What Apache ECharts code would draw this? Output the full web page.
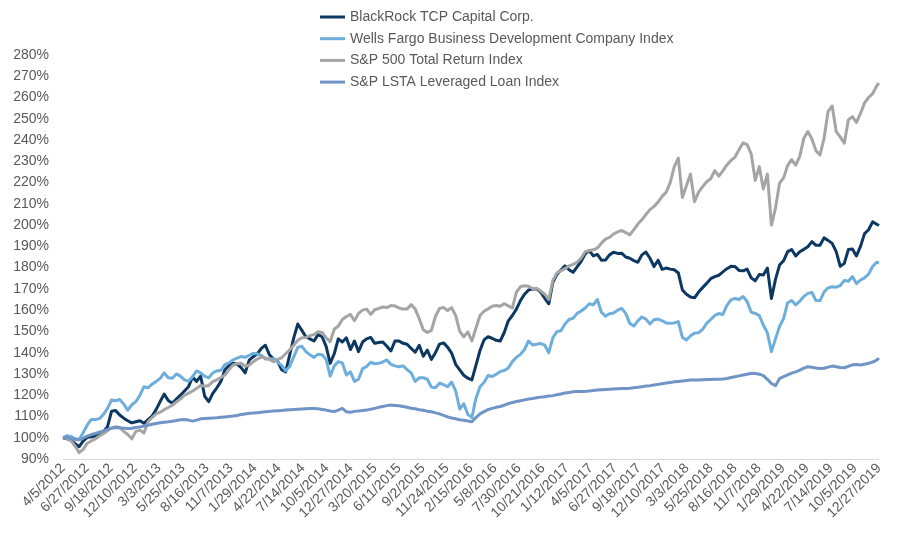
<!DOCTYPE html>
<html>
<head>
<meta charset="utf-8">
<script src="https://cdn.jsdelivr.net/npm/echarts@6/dist/echarts.min.js"></script>
<style>
html,body{margin:0;padding:0;background:#fff;}
#chart{width:915px;height:543px;}
</style>
</head>
<body>
<div id="chart"></div>
<script>
// Observation dates: every 14 days from 4/5/2012, plus the final date 12/27/2019
const START_DATE = '2012-04-05';
const END_DATE = '2019-12-27';
const STEP_DAYS = 14;

const seriesNames = [
  'BlackRock TCP Capital Corp.',
  'Wells Fargo Business Development Company Index',
  'S&P 500 Total Return Index',
  'S&P LSTA Leveraged Loan Index'
];

// Growth of 100% (values in %)
const tcpc = [
100,99.5,98.8,97.2,95.8,98.5,100.2,100.4,100.8,101.6,
103,105.2,112.5,112.8,110.7,109.2,108,107,107.5,108,
106.8,108.5,110.2,113.2,117,120.5,117.5,116.2,118.2,120,
122,124,128.5,126.5,129,119.5,117,120.9,123.5,126.5,
132,134,135,134.6,133,130.5,136.5,138.1,139.5,142,
143.5,139,137,136,132,131,138.9,147,153.5,150.5,
147.5,146.5,145.5,148.5,147.5,143,135,139.5,146.5,145,
147,141.5,145.5,140.5,145,146.5,147.2,144.4,144.8,145,
143,140.8,145.5,145.5,144.4,144,142,140.2,143.5,138.3,
141.2,136.8,140,144,144.6,142.6,139.8,134.5,131.9,129.4,
128,127.2,134,141,146,147.5,146.8,145.8,145.5,149.5,
155,157.5,160.5,164.5,167.5,169.5,170,170,168.5,165.6,
163,173,176.8,178.9,180.8,179,177.8,180.4,183,186.5,
188,185.5,186.2,183.5,183.6,186,187.2,186.7,186.8,185,
184.4,183.3,182.5,186,187.3,184.4,180.5,183.5,179.2,179.8,
179.3,179,177.5,169.5,167.5,166.2,165.8,168.5,170.6,172.6,
174.8,175.8,176.4,178,179.5,180.6,180.5,178.7,178.5,179.3,
175.2,173.8,176.8,176.5,179.8,165.5,174.5,181.2,183.2,187.5,
188.5,185.5,187.5,188.6,189.8,192.2,190.5,190.5,194,192.8,
191.4,187.5,180.6,182,188.5,188.8,185.5,190,196,197.8,
201.5,200.4,199.8
];

const wellsFargoBdc = [
100,101,100.5,99.5,99.2,102.5,106,108.6,108.6,109,
111,113.8,117.8,117.4,118,115.8,113,115.5,117,120,
124,123.5,125.2,126.5,127.9,130.5,128.2,128,130,129,
127.2,126.6,128.7,131.4,130.5,129,128.2,130.5,131.4,131.7,
134.4,135.2,136.6,137.4,138.2,137.8,138.8,139.7,139.4,138.8,
137,137,137.2,135.6,134,131.5,133.5,138,142.5,143,
140.5,139,137.8,139.3,139,136.8,129,133.8,135.8,135.2,
129.5,131,126.5,127.5,132.5,133.5,135.5,134.8,135,135.6,
136.6,134.5,133.8,133.4,133.8,132,130.5,126.5,128.2,128.2,
127.5,123.8,123.5,125.6,125,124,126.2,122,113.5,116,
111,109.5,118.5,124,126,129.3,128.8,129.8,131.1,131.6,
132.8,135.8,137.8,139.2,141.5,145.5,143.6,144,144.3,143.5,
140,147,149.9,150.3,153.5,155.6,156.2,158.5,159.6,161,
163,162.5,165,159,157.2,158.3,158.7,160,160.8,158.5,
153.8,152.5,155,156.8,155.8,153.5,155.5,155.8,155,154,
153.8,154,154.6,147.2,146,148,149.2,149.4,151,153.8,
155.6,157.5,158.4,158,162.2,164.8,165.5,165,166.4,164,
159,158.5,157.5,153,149.3,140.5,146.5,152.3,156,163.5,
164.5,162.5,164.2,166.5,167.9,168.3,164.5,164.5,168.5,170.5,
171,170.8,171.5,174,173.6,175.8,172.5,174.2,175.2,177,
180.5,182.5,182.2
];

const sp500 = [
100,99.6,98.5,96,93,94.5,97.4,98.5,99.5,100.8,
102,103.4,104.6,105.2,104.8,103,101.5,99.5,103,103.6,
102.2,107.5,109.5,111.2,112,113.2,114.2,115.3,116.8,118.2,
120,121,122,123.2,124.6,124.2,124.6,126.4,127.2,128.3,
129.5,132,134.2,134.8,135,133.6,134.2,135.8,137,138,
137.6,136.8,135.8,136.8,137.6,139.5,141.3,143.5,145.8,147,
147.2,148,148.5,149.8,149.5,147,145.2,151,152.5,155.6,
157,158,155,158.5,160,160.5,158,160.2,160.8,161.5,
161.2,162.2,162,161,160.5,160.5,162.6,160.5,156,150.8,
149.5,150.5,157,160.8,161.3,159.8,161.2,157.5,150,147.5,
149.8,145.5,151.5,157.5,159.5,160.6,161.8,162.2,161.8,163,
162,161,168.5,171,171.5,171.2,170.2,170.3,169,167.5,
165,174,177.5,178.5,179.5,180.8,181.5,182.5,184.5,187.5,
188,188.4,189.2,191.5,193.4,194.2,195.8,196.8,197.5,196.5,
195.4,197.8,200.5,202.5,205,207.3,208.8,210.8,213.5,215.5,
220,227.5,231.5,213,218.5,224,211,215.5,218.1,220.4,
221.8,225.6,223,225.5,228.3,230.4,232,235.5,238.7,237.8,
233.5,221,227.5,217,224,200,208,219.7,222.2,228,
230.8,228.2,232.3,240.8,244,240.5,235,233,240.8,253.5,
256,244,241.5,238.5,249.5,251,248.3,252.5,257.5,260,
261.8,265.5,266.8
];

const lstaLoan = [
100,100.2,99.6,99.2,99,99.8,100.8,101.5,102,102.6,
103.2,103.9,104.5,104.8,104.7,104.5,104.3,104.5,104.8,105.1,
105.5,105.9,106.3,106.7,107,107.3,107.5,107.8,108.1,108.5,
108.6,108.3,107.8,108.3,108.9,109.1,109.2,109.3,109.4,109.6,
109.8,110,110.2,110.5,110.9,111.2,111.5,111.6,111.8,112,
112.2,112.4,112.6,112.7,112.8,113,113.2,113.3,113.4,113.5,
113.6,113.7,113.8,113.6,113.3,113,112.6,112.3,113,113.8,
112.2,112,112.4,112.6,112.8,113,113.4,113.8,114.3,114.7,
115.1,115.4,115.2,115,114.7,114.3,113.9,113.6,113.2,112.9,
112.5,112.2,111.7,111.2,110.5,109.8,109.3,108.9,108.5,108.2,
107.9,107.5,109.5,111.2,112.3,113.2,113.8,114.3,114.7,115.3,
116,116.6,117,117.4,117.8,118.2,118.5,118.8,119.1,119.3,
119.6,119.8,120.2,120.6,121,121.3,121.6,121.7,121.7,121.8,
122,122.2,122.4,122.6,122.7,122.8,122.9,123,123.1,123.2,
123.3,123.5,123.7,124,124.3,124.5,124.8,125.1,125.4,125.7,
126,126.3,126.5,126.7,126.9,127.1,127.2,127.2,127.3,127.4,
127.4,127.5,127.5,127.6,127.9,128.3,128.7,129.1,129.5,129.9,
130.3,130.2,129.9,129.2,127.5,125.5,124.5,127.8,128.7,129.6,
130.4,131,131.8,132.7,133.4,133.1,132.8,132.6,132.7,133.2,
133.7,133.4,133,132.9,133.6,134.3,134.4,134.2,134.6,135,
135.6,136.5,137.4
];

// Axis settings
const Y_MIN = 90, Y_MAX = 280, Y_STEP = 10;
const X_TICK_DAYS = 83;

const DAY_MS = 86400000;
function parseUTC(s) { const p = s.split('-').map(Number); return Date.UTC(p[0], p[1] - 1, p[2]); }
const t0 = parseUTC(START_DATE);
const tEnd = parseUTC(END_DATE);
const totalDays = Math.round((tEnd - t0) / DAY_MS);

// Build observation date list (category dates)
const obsDays = [];
for (let d = 0; d < totalDays; d += STEP_DAYS) obsDays.push(d);
obsDays.push(totalDays);

function fmtDay(v) {
  const dt = new Date(t0 + Math.round(v) * DAY_MS);
  return (dt.getUTCMonth() + 1) + '/' + dt.getUTCDate() + '/' + dt.getUTCFullYear();
}

function pairs(vals) {
  return vals.map((v, i) => [obsDays[i], v]);
}

const colors = ['#0c3761', '#6eaedc', '#a5a5a5', '#6f94c6'];
const allVals = [tcpc, wellsFargoBdc, sp500, lstaLoan];

const chart = echarts.init(document.getElementById('chart'), null, { renderer: 'canvas' });
chart.setOption({
  animation: false,
  backgroundColor: '#ffffff',
  textStyle: { fontFamily: '"Liberation Sans", Arial, sans-serif' },
  legend: {
    orient: 'vertical',
    left: 315,
    top: 5,
    itemWidth: 25,
    itemHeight: 3,
    itemGap: 7.7,
    icon: 'rect',
    textStyle: { fontSize: 14, color: '#595959', lineHeight: 14, fontFamily: '"Liberation Sans", Arial, sans-serif' },
    data: seriesNames
  },
  grid: { left: 63, right: 36, top: 55, bottom: 84 },
  xAxis: {
    type: 'value',
    min: 0,
    max: totalDays,
    interval: X_TICK_DAYS,
    axisLine: { show: true, lineStyle: { color: '#d9d9d9', width: 1 } },
    axisTick: { show: false },
    splitLine: { show: false },
    axisLabel: {
      rotate: 45,
      fontSize: 14,
      color: '#595959',
      margin: 7,
      showMinLabel: true,
      showMaxLabel: true,
      formatter: fmtDay
    }
  },
  yAxis: {
    type: 'value',
    min: Y_MIN,
    max: Y_MAX,
    interval: Y_STEP,
    axisLine: { show: false },
    axisTick: { show: false },
    splitLine: { show: false },
    axisLabel: { fontSize: 14, color: '#595959', margin: 14, formatter: v => v + '%' }
  },
  series: seriesNames.map((name, k) => ({
    name: name,
    type: 'line',
    data: pairs(allVals[k]),
    showSymbol: false,
    symbol: 'none',
    smooth: false,
    color: colors[k],
    lineStyle: { color: colors[k], width: 3, join: 'round' },
    z: 2 + k
  }))
});
</script>
</body>
</html>
